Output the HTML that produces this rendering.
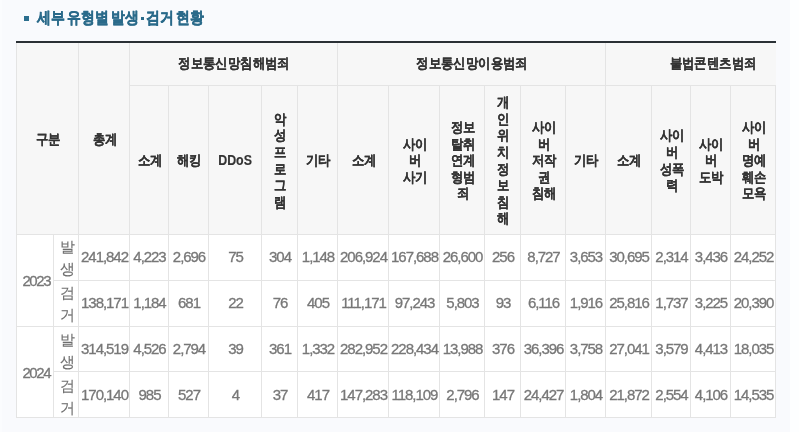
<!DOCTYPE html>
<html><head><meta charset="utf-8"><style>
html,body{margin:0;padding:0}
body{width:799px;height:432px;overflow:hidden;position:relative;background:#f9fafd;font-family:"Liberation Sans",sans-serif}
body>div{position:absolute;box-sizing:border-box;will-change:transform}
.h,.b{display:flex;align-items:center;justify-content:center;text-align:center}
.h{color:#333333;font-weight:bold;font-size:14px;line-height:16.65px;letter-spacing:0;padding-top:2px;padding-left:2px;-webkit-text-stroke:0.15px #333333}
.g{padding-top:0;padding-bottom:1px}
.h .t{display:inline-block;transform:scaleX(0.885)}
.h2{letter-spacing:-0.9px}
.b{color:#777777;font-size:15px;letter-spacing:-1.05px;line-height:17px;padding-top:0;padding-bottom:1.5px;padding-left:2px;-webkit-text-stroke:0.3px #777777}
.y{letter-spacing:-1.45px;padding-left:3.5px;padding-top:3px;padding-bottom:0}
.k{-webkit-text-stroke:0.1px #6f6f6f;color:#6f6f6f;font-size:14.5px;letter-spacing:0;line-height:21.6px;padding-top:3px;padding-bottom:0;padding-left:3px}
.title{left:37px;top:5.5px;font-size:16px;font-weight:bold;color:#2a6a8a;line-height:24px;letter-spacing:0;white-space:nowrap;-webkit-text-stroke:0.35px #2a6a8a}
.title span{display:inline-block;transform:scaleX(0.87);transform-origin:0 0}
.bul{left:24px;top:16px;width:5px;height:5px;background:#2b6e8e}
.strip{left:790px;top:0;width:9px;height:432px;background:#fdfeff}
</style></head><body>
<div class="strip"></div>
<div class="strip" style="left:0;width:2px;background:#fbfcfe"></div>
<div class="bul"></div>
<div class="title" style="left:37px"><span>세부</span></div>
<div class="title" style="left:67px"><span>유형별</span></div>
<div class="title" style="left:111px"><span>발생</span></div>
<div style="left:140.5px;width:2.5px;height:2.5px;top:16.8px;background:#2a6a8a"></div>
<div class="title" style="left:146px"><span>검거</span></div>
<div class="title" style="left:176px"><span>현황</span></div>
<div style="left:16px;top:43px;width:760px;height:191px;background:#f7f7f7"></div>
<div style="left:16px;top:234px;width:760px;height:183px;background:#fff"></div>
<div style="left:16px;top:41px;width:760px;height:2px;background:#2a3035"></div>
<div style="left:16px;top:43px;width:1px;height:191px;background:#e4e4e4"></div>
<div style="left:78px;top:43px;width:1px;height:191px;background:#e4e4e4"></div>
<div style="left:129px;top:43px;width:1px;height:191px;background:#e4e4e4"></div>
<div style="left:337px;top:43px;width:1px;height:191px;background:#e4e4e4"></div>
<div style="left:605px;top:43px;width:1px;height:191px;background:#e4e4e4"></div>
<div style="left:775px;top:85px;width:1px;height:149px;background:#e4e4e4"></div>
<div style="left:168px;top:85px;width:1px;height:149px;background:#e4e4e4"></div>
<div style="left:208px;top:85px;width:1px;height:149px;background:#e4e4e4"></div>
<div style="left:261px;top:85px;width:1px;height:149px;background:#e4e4e4"></div>
<div style="left:297px;top:85px;width:1px;height:149px;background:#e4e4e4"></div>
<div style="left:388px;top:85px;width:1px;height:149px;background:#e4e4e4"></div>
<div style="left:439px;top:85px;width:1px;height:149px;background:#e4e4e4"></div>
<div style="left:484px;top:85px;width:1px;height:149px;background:#e4e4e4"></div>
<div style="left:520px;top:85px;width:1px;height:149px;background:#e4e4e4"></div>
<div style="left:565px;top:85px;width:1px;height:149px;background:#e4e4e4"></div>
<div style="left:651px;top:85px;width:1px;height:149px;background:#e4e4e4"></div>
<div style="left:690px;top:85px;width:1px;height:149px;background:#e4e4e4"></div>
<div style="left:730px;top:85px;width:1px;height:149px;background:#e4e4e4"></div>
<div style="left:129px;top:85px;width:646px;height:1px;background:#e4e4e4"></div>
<div style="left:16px;top:234px;width:760px;height:1px;background:#e4e4e4"></div>
<div style="left:16px;top:234px;width:1px;height:184px;background:#e4e4e4"></div>
<div style="left:53px;top:234px;width:1px;height:184px;background:#e4e4e4"></div>
<div style="left:78px;top:234px;width:1px;height:184px;background:#e4e4e4"></div>
<div style="left:129px;top:234px;width:1px;height:184px;background:#e4e4e4"></div>
<div style="left:168px;top:234px;width:1px;height:184px;background:#e4e4e4"></div>
<div style="left:208px;top:234px;width:1px;height:184px;background:#e4e4e4"></div>
<div style="left:261px;top:234px;width:1px;height:184px;background:#e4e4e4"></div>
<div style="left:297px;top:234px;width:1px;height:184px;background:#e4e4e4"></div>
<div style="left:337px;top:234px;width:1px;height:184px;background:#e4e4e4"></div>
<div style="left:388px;top:234px;width:1px;height:184px;background:#e4e4e4"></div>
<div style="left:439px;top:234px;width:1px;height:184px;background:#e4e4e4"></div>
<div style="left:484px;top:234px;width:1px;height:184px;background:#e4e4e4"></div>
<div style="left:520px;top:234px;width:1px;height:184px;background:#e4e4e4"></div>
<div style="left:565px;top:234px;width:1px;height:184px;background:#e4e4e4"></div>
<div style="left:605px;top:234px;width:1px;height:184px;background:#e4e4e4"></div>
<div style="left:651px;top:234px;width:1px;height:184px;background:#e4e4e4"></div>
<div style="left:690px;top:234px;width:1px;height:184px;background:#e4e4e4"></div>
<div style="left:730px;top:234px;width:1px;height:184px;background:#e4e4e4"></div>
<div style="left:775px;top:234px;width:1px;height:184px;background:#e4e4e4"></div>
<div style="left:53px;top:280px;width:723px;height:1px;background:#e4e4e4"></div>
<div style="left:16px;top:326px;width:760px;height:1px;background:#e4e4e4"></div>
<div style="left:53px;top:371px;width:723px;height:1px;background:#e4e4e4"></div>
<div style="left:16px;top:417px;width:760px;height:1px;background:#e4e4e4"></div>
<div class="h g" style="left:129px;top:43px;width:208px;height:42px"><span class="t">정보통신망침해범죄</span></div>
<div class="h g" style="left:337px;top:43px;width:268px;height:42px"><span class="t">정보통신망이용범죄</span></div>
<div class="h g" style="left:626px;top:43px;width:171px;height:42px"><span class="t">불법콘텐츠범죄</span></div>
<div class="h" style="left:16px;top:43px;width:62px;height:191px"><span class="t">구분</span></div>
<div class="h" style="left:78px;top:43px;width:51px;height:191px"><span class="t">총계</span></div>
<div class="h" style="left:129px;top:85px;width:39px;height:149px"><span class="t">소계</span></div>
<div class="h" style="left:168px;top:85px;width:40px;height:149px"><span class="t">해킹</span></div>
<div class="h" style="left:208px;top:85px;width:53px;height:149px"><span class="t">DDoS</span></div>
<div class="h" style="left:261px;top:85px;width:36px;height:149px"><span class="t">악<br>성<br>프<br>로<br>그<br>램</span></div>
<div class="h" style="left:297px;top:85px;width:40px;height:149px"><span class="t">기타</span></div>
<div class="h" style="left:337px;top:85px;width:51px;height:149px"><span class="t">소계</span></div>
<div class="h" style="left:388px;top:85px;width:51px;height:149px"><span class="t">사이<br>버<br>사기</span></div>
<div class="h" style="left:439px;top:85px;width:45px;height:149px"><span class="t">정보<br>탈취<br>연계<br>형범<br>죄</span></div>
<div class="h" style="left:484px;top:85px;width:36px;height:149px"><span class="t">개<br>인<br>위<br>치<br>정<br>보<br>침<br>해</span></div>
<div class="h" style="left:520px;top:85px;width:45px;height:149px"><span class="t">사이<br>버<br>저작<br>권<br>침해</span></div>
<div class="h" style="left:565px;top:85px;width:40px;height:149px"><span class="t">기타</span></div>
<div class="h" style="left:605px;top:85px;width:46px;height:149px"><span class="t">소계</span></div>
<div class="h" style="left:651px;top:85px;width:39px;height:149px"><span class="t">사이<br>버<br>성폭<br>력</span></div>
<div class="h" style="left:690px;top:85px;width:40px;height:149px"><span class="t">사이<br>버<br>도박</span></div>
<div class="h" style="left:730px;top:85px;width:45px;height:149px"><span class="t">사이<br>버<br>명예<br>훼손<br>모욕</span></div>
<div class="b y" style="left:16px;top:232.5px;width:37px;height:92.0px"><span class="t">2023</span></div>
<div class="b y" style="left:16px;top:324.5px;width:37px;height:91.0px"><span class="t">2024</span></div>
<div class="b k" style="left:53px;top:234px;width:25px;height:46px"><span class="t">발<br>생</span></div>
<div class="b" style="left:78px;top:234px;width:51px;height:46px"><span class="t">241,842</span></div>
<div class="b" style="left:129px;top:234px;width:39px;height:46px"><span class="t">4,223</span></div>
<div class="b" style="left:168px;top:234px;width:40px;height:46px"><span class="t">2,696</span></div>
<div class="b" style="left:208px;top:234px;width:53px;height:46px"><span class="t">75</span></div>
<div class="b" style="left:261px;top:234px;width:36px;height:46px"><span class="t">304</span></div>
<div class="b" style="left:297px;top:234px;width:40px;height:46px"><span class="t">1,148</span></div>
<div class="b" style="left:337px;top:234px;width:51px;height:46px"><span class="t">206,924</span></div>
<div class="b" style="left:388px;top:234px;width:51px;height:46px"><span class="t">167,688</span></div>
<div class="b" style="left:439px;top:234px;width:45px;height:46px"><span class="t">26,600</span></div>
<div class="b" style="left:484px;top:234px;width:36px;height:46px"><span class="t">256</span></div>
<div class="b" style="left:520px;top:234px;width:45px;height:46px"><span class="t">8,727</span></div>
<div class="b" style="left:565px;top:234px;width:40px;height:46px"><span class="t">3,653</span></div>
<div class="b" style="left:605px;top:234px;width:46px;height:46px"><span class="t">30,695</span></div>
<div class="b" style="left:651px;top:234px;width:39px;height:46px"><span class="t">2,314</span></div>
<div class="b" style="left:690px;top:234px;width:40px;height:46px"><span class="t">3,436</span></div>
<div class="b" style="left:730px;top:234px;width:45px;height:46px"><span class="t">24,252</span></div>
<div class="b k" style="left:53px;top:280px;width:25px;height:46px"><span class="t">검<br>거</span></div>
<div class="b" style="left:78px;top:280px;width:51px;height:46px"><span class="t">138,171</span></div>
<div class="b" style="left:129px;top:280px;width:39px;height:46px"><span class="t">1,184</span></div>
<div class="b" style="left:168px;top:280px;width:40px;height:46px"><span class="t">681</span></div>
<div class="b" style="left:208px;top:280px;width:53px;height:46px"><span class="t">22</span></div>
<div class="b" style="left:261px;top:280px;width:36px;height:46px"><span class="t">76</span></div>
<div class="b" style="left:297px;top:280px;width:40px;height:46px"><span class="t">405</span></div>
<div class="b" style="left:337px;top:280px;width:51px;height:46px"><span class="t">111,171</span></div>
<div class="b" style="left:388px;top:280px;width:51px;height:46px"><span class="t">97,243</span></div>
<div class="b" style="left:439px;top:280px;width:45px;height:46px"><span class="t">5,803</span></div>
<div class="b" style="left:484px;top:280px;width:36px;height:46px"><span class="t">93</span></div>
<div class="b" style="left:520px;top:280px;width:45px;height:46px"><span class="t">6,116</span></div>
<div class="b" style="left:565px;top:280px;width:40px;height:46px"><span class="t">1,916</span></div>
<div class="b" style="left:605px;top:280px;width:46px;height:46px"><span class="t">25,816</span></div>
<div class="b" style="left:651px;top:280px;width:39px;height:46px"><span class="t">1,737</span></div>
<div class="b" style="left:690px;top:280px;width:40px;height:46px"><span class="t">3,225</span></div>
<div class="b" style="left:730px;top:280px;width:45px;height:46px"><span class="t">20,390</span></div>
<div class="b k" style="left:53px;top:326.5px;width:25px;height:46.0px"><span class="t">발<br>생</span></div>
<div class="b" style="left:78px;top:326px;width:51px;height:46px"><span class="t">314,519</span></div>
<div class="b" style="left:129px;top:326px;width:39px;height:46px"><span class="t">4,526</span></div>
<div class="b" style="left:168px;top:326px;width:40px;height:46px"><span class="t">2,794</span></div>
<div class="b" style="left:208px;top:326px;width:53px;height:46px"><span class="t">39</span></div>
<div class="b" style="left:261px;top:326px;width:36px;height:46px"><span class="t">361</span></div>
<div class="b" style="left:297px;top:326px;width:40px;height:46px"><span class="t">1,332</span></div>
<div class="b" style="left:337px;top:326px;width:51px;height:46px"><span class="t">282,952</span></div>
<div class="b" style="left:388px;top:326px;width:51px;height:46px"><span class="t">228,434</span></div>
<div class="b" style="left:439px;top:326px;width:45px;height:46px"><span class="t">13,988</span></div>
<div class="b" style="left:484px;top:326px;width:36px;height:46px"><span class="t">376</span></div>
<div class="b" style="left:520px;top:326px;width:45px;height:46px"><span class="t">36,396</span></div>
<div class="b" style="left:565px;top:326px;width:40px;height:46px"><span class="t">3,758</span></div>
<div class="b" style="left:605px;top:326px;width:46px;height:46px"><span class="t">27,041</span></div>
<div class="b" style="left:651px;top:326px;width:39px;height:46px"><span class="t">3,579</span></div>
<div class="b" style="left:690px;top:326px;width:40px;height:46px"><span class="t">4,413</span></div>
<div class="b" style="left:730px;top:326px;width:45px;height:46px"><span class="t">18,035</span></div>
<div class="b k" style="left:53px;top:372.5px;width:25px;height:46.0px"><span class="t">검<br>거</span></div>
<div class="b" style="left:78px;top:372px;width:51px;height:46px"><span class="t">170,140</span></div>
<div class="b" style="left:129px;top:372px;width:39px;height:46px"><span class="t">985</span></div>
<div class="b" style="left:168px;top:372px;width:40px;height:46px"><span class="t">527</span></div>
<div class="b" style="left:208px;top:372px;width:53px;height:46px"><span class="t">4</span></div>
<div class="b" style="left:261px;top:372px;width:36px;height:46px"><span class="t">37</span></div>
<div class="b" style="left:297px;top:372px;width:40px;height:46px"><span class="t">417</span></div>
<div class="b" style="left:337px;top:372px;width:51px;height:46px"><span class="t">147,283</span></div>
<div class="b" style="left:388px;top:372px;width:51px;height:46px"><span class="t">118,109</span></div>
<div class="b" style="left:439px;top:372px;width:45px;height:46px"><span class="t">2,796</span></div>
<div class="b" style="left:484px;top:372px;width:36px;height:46px"><span class="t">147</span></div>
<div class="b" style="left:520px;top:372px;width:45px;height:46px"><span class="t">24,427</span></div>
<div class="b" style="left:565px;top:372px;width:40px;height:46px"><span class="t">1,804</span></div>
<div class="b" style="left:605px;top:372px;width:46px;height:46px"><span class="t">21,872</span></div>
<div class="b" style="left:651px;top:372px;width:39px;height:46px"><span class="t">2,554</span></div>
<div class="b" style="left:690px;top:372px;width:40px;height:46px"><span class="t">4,106</span></div>
<div class="b" style="left:730px;top:372px;width:45px;height:46px"><span class="t">14,535</span></div>
</body></html>
